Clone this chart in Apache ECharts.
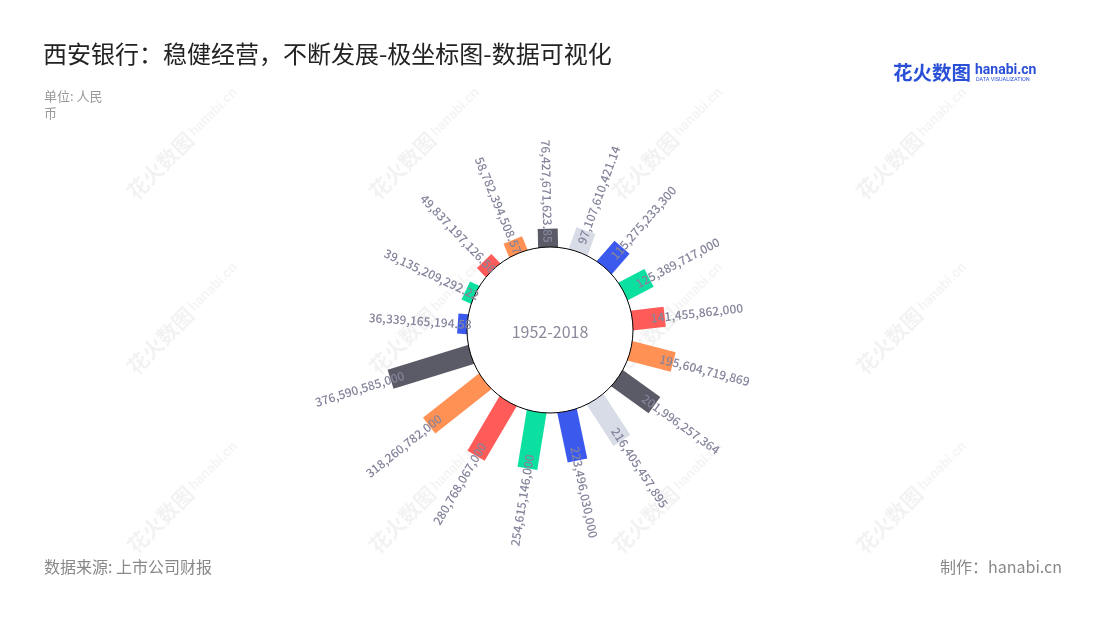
<!DOCTYPE html>
<html>
<head>
<meta charset="utf-8">
<script src="https://cdn.jsdelivr.net/npm/echarts@6/dist/echarts.min.js"></script>
<style>
html,body{margin:0;padding:0;background:#fff;}
#chart{width:1100px;height:620px;}
</style>
</head>
<body>
<div id="chart"></div>
<script>
// ---- data ----
const categories = ['2002','2003','2004','2005','2006','2007','2008','2009','2010','2011','2012','2013','2014','2015','2016','2017','2018'];
const values = [36339165194.58, 39135209292.22, 49837197126.56, 58782394508.57, 76427671623.85, 97107610421.14, 115275233300, 125389717000, 141455862000, 195604719869, 201996257364, 216405457895, 223496030000, 254615146000, 280768067000, 318260782000, 376590585000];
const palette = ['#3B59EC', '#0CE0A1', '#FF5B58', '#FF9155', '#5A5B66', '#D8DCE7'];
const centerLabel = '1952-2018';
const titleText = '西安银行：稳健经营，不断发展-极坐标图-数据可视化';
const unitText = '单位: 人民\n币';
const sourceText = '数据来源: 上市公司财报';
const makerText = '制作：hanabi.cn';

function fmt(v) {
  const s = String(v).split('.');
  const intPart = s[0].replace(/\B(?=(\d{3})+(?!\d))/g, ',');
  return s.length > 1 ? intPart + '.' + s[1] : intPart;
}

const CJK = '"Noto Sans CJK SC","Noto Sans",sans-serif';
const CX = 550, CY = 330;

const chart = echarts.init(document.getElementById('chart'));

const wmPos = [];
[183, 425, 668, 912].forEach(x => [143, 318, 497].forEach(y => wmPos.push([x, y])));
const watermarks = wmPos.map(p => ({
  type: 'text', x: p[0], y: p[1], rotation: Math.PI / 4, z: 0, silent: true,
  style: {
    text: '{a|花火数图}{b|hanabi.cn}',
    align: 'center', verticalAlign: 'middle',
    rich: {
      a: { fontSize: 21, fontWeight: 'bold', fill: 'rgba(0,0,0,0.05)', fontFamily: CJK },
      b: { fontSize: 14, fontWeight: 'bold', fill: 'rgba(0,0,0,0.045)', fontFamily: 'Roboto, sans-serif', padding: [0, 0, 0, 3] }
    }
  }
}));

function barRender(params, api) {
  const idx = api.value(1);
  const v = api.value(0);
  const cx = params.coordSys.cx, cy = params.coordSys.cy;
  const p0 = api.coord([0, idx]);
  const p1 = api.coord([v, idx]);
  let ux = p0[0] - cx, uy = p0[1] - cy;
  const len = Math.sqrt(ux * ux + uy * uy);
  ux /= len; uy /= len;
  const nx = -uy, ny = ux, hw = 10;
  const s0 = [p0[0] - ux * 5, p0[1] - uy * 5];
  return {
    type: 'polygon',
    shape: { points: [
      [s0[0] + nx * hw, s0[1] + ny * hw],
      [p1[0] + nx * hw, p1[1] + ny * hw],
      [p1[0] - nx * hw, p1[1] - ny * hw],
      [s0[0] - nx * hw, s0[1] - ny * hw]
    ] },
    style: { fill: palette[idx % palette.length] }
  };
}

function labelRender(params, api) {
  const idx = api.value(1);
  const v = api.value(0);
  const cx = params.coordSys.cx, cy = params.coordSys.cy;
  const p1 = api.coord([v, idx]);
  let ux = p1[0] - cx, uy = p1[1] - cy;
  const len = Math.sqrt(ux * ux + uy * uy);
  ux /= len; uy /= len;
  const ax = p1[0] - ux * 14, ay = p1[1] - uy * 14;
  const theta = Math.atan2(-uy, ux);
  const right = ux >= 0;
  return {
    type: 'text',
    x: ax, y: ay,
    rotation: right ? theta : theta - Math.PI,
    style: {
      text: fmt(values[idx]),
      fill: '#84849c',
      fontSize: 12,
      fontWeight: 500,
      fontFamily: CJK,
      align: right ? 'left' : 'right',
      verticalAlign: 'middle'
    }
  };
}

const option = {
  backgroundColor: '#fff',
  animation: false,
  title: [
    { text: titleText, left: 43, top: 42, padding: 0, textStyle: { fontSize: 24, fontWeight: 'normal', color: '#222', fontFamily: CJK } },
    { text: unitText, left: 44, top: 88, padding: 0, textStyle: { fontSize: 13, fontWeight: 'normal', color: '#999', lineHeight: 17, fontFamily: CJK } }
  ],
  polar: { center: [CX, CY], radius: [84.5, 172] },
  angleAxis: {
    type: 'category', data: categories, startAngle: 186.6, clockwise: true,
    axisLine: { show: false }, axisTick: { show: false }, axisLabel: { show: false }, splitLine: { show: false }
  },
  radiusAxis: {
    type: 'value', min: 0, max: 400000000000,
    axisLine: { show: false }, axisTick: { show: false }, axisLabel: { show: false }, splitLine: { show: false }
  },
  graphic: watermarks.concat([
    { type: 'circle', shape: { cx: CX, cy: CY, r: 83 }, style: { fill: '#fff', stroke: '#000', lineWidth: 1 }, z: 5 },
    { type: 'text', x: CX, y: CY + 2, z: 6, style: { text: centerLabel, align: 'center', verticalAlign: 'middle', fontSize: 16, fill: '#8a8a9c', fontFamily: CJK } },
    { type: 'text', x: 44, y: 567, z: 6, style: { text: sourceText, align: 'left', verticalAlign: 'middle', fontSize: 16, fill: '#888', fontFamily: CJK } },
    { type: 'text', x: 1062, y: 567, z: 6, style: { text: makerText, align: 'right', verticalAlign: 'middle', fontSize: 16, fill: '#888', fontFamily: CJK } },
    { type: 'text', x: 893, y: 73, z: 6, style: { text: '花火数图', align: 'left', verticalAlign: 'middle', fontSize: 19.5, fontWeight: 'bold', fill: '#2B50D8', fontFamily: CJK } },
    { type: 'text', x: 975, y: 70, z: 6, style: { text: 'hanabi.cn', align: 'left', verticalAlign: 'middle', fontSize: 14, fontWeight: 'bold', fill: '#2B50D8', fontFamily: 'Roboto, sans-serif' } },
    { type: 'text', x: 976, y: 80, z: 6, style: { text: 'DATA VISUALIZATION', align: 'left', verticalAlign: 'middle', fontSize: 5.5, fill: '#2B50D8', fontFamily: 'Roboto, sans-serif' } }
  ]),
  series: [
    { type: 'custom', coordinateSystem: 'polar', z: 2, data: values.map((v, i) => [v, i]), encode: { radius: 0, angle: 1 }, renderItem: barRender },
    { type: 'custom', coordinateSystem: 'polar', z: 10, data: values.map((v, i) => [v, i]), encode: { radius: 0, angle: 1 }, renderItem: labelRender }
  ]
};
chart.setOption(option);
</script>
</body>
</html>
